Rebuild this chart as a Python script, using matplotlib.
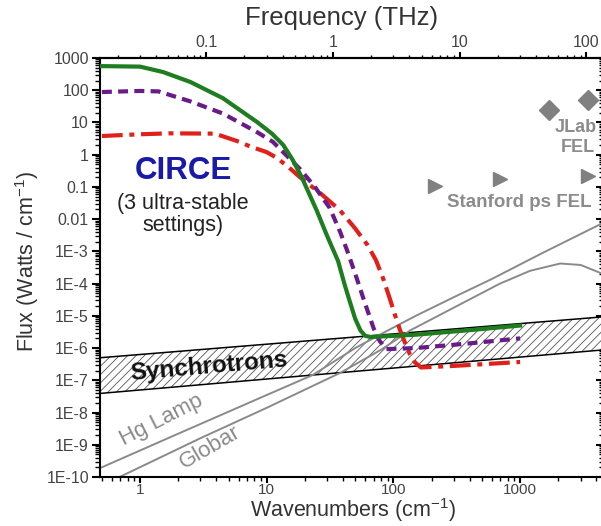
import matplotlib
matplotlib.use('Agg')
import matplotlib.pyplot as plt
from matplotlib.ticker import LogLocator, NullFormatter

plt.rcParams['font.family'] = ['Liberation Sans', 'DejaVu Sans']
plt.rcParams['mathtext.default'] = 'regular'
plt.rcParams['hatch.linewidth'] = 0.6
plt.rcParams['hatch.color'] = '#555555'

THZ = 33.356  # cm^-1 per THz

# CIRCE settings (wavenumber in cm^-1, flux in W/cm^-1)
green_wn = [0.5, 1.0, 1.52, 2.5, 4.5, 8.4, 11, 13.5, 16, 18.9, 24.9, 30, 36.6, 41, 45, 50, 55, 60, 66,
            150, 400, 1000]
green_flux = [560, 540, 367, 180, 57, 10.3, 4.5, 2.0, 0.7, 0.2, 0.018, 3e-3, 5e-4, 1e-4, 3e-5, 8e-6,
              3.5e-6, 2.4e-6, 2.2e-6, 2.6e-6, 3.6e-6, 5e-6]

purple_wn = [0.5, 1.0, 1.4, 2.5, 4.5, 8.4, 11.2, 18.3, 24, 31.5, 38, 43, 50, 59, 70, 78, 88,
             150, 400, 1000]
purple_flux = [88, 95, 92, 45, 19, 5, 2.5, 0.36, 0.1, 0.022, 4e-3, 1.1e-3, 2e-4, 2.8e-5, 4e-6,
               1.65e-6, 9.3e-7, 1e-6, 1.4e-6, 2e-6]

red_wn = [0.5, 1.0, 1.7, 3.9, 6.1, 7.4, 10, 12, 15, 18.3, 27, 37.8, 49.8, 61.9, 72.9, 82.8, 92.3,
          103, 113, 124, 135, 148, 165, 300, 1000]
red_flux = [3.8, 4.3, 4.6, 4.5, 2.5, 1.8, 1.2, 0.8, 0.4, 0.2, 0.06, 0.019, 5.2e-3, 1.66e-3, 5.3e-4,
            1.47e-4, 4.1e-5, 1.05e-5, 3.55e-6, 1.4e-6, 6.4e-7, 3.6e-7, 2.5e-7, 2.8e-7, 3.7e-7]

# synchrotron band edges
band_wn = [0.48, 10000]
band_hi = [5e-7, 1.2e-5]
band_lo = [3.9e-8, 1.15e-6]

# thermal sources
hg_wn = [0.5, 2, 10, 23, 50, 78, 150, 300, 600, 1500, 4500]
hg_flux = [2e-10, 2.2e-9, 3.5e-8, 1.45e-7, 1e-6, 2.6e-6, 1e-5, 3.8e-5, 1.4e-4, 8.9e-4, 7.6e-3]
globar_wn = [0.69, 3, 10, 38, 80, 135, 300, 693, 1200, 2070, 3000, 4500]
globar_flux = [1e-10, 1.6e-9, 1.4e-8, 1.7e-7, 8.9e-7, 3.5e-6, 1.8e-5, 1e-4, 2.5e-4, 4.2e-4, 3.8e-4, 2e-4]

# FEL sources
stanford_wn = [213, 693, 3435]
stanford_flux = [0.107, 0.177, 0.22]
jlab_wn = [1690, 3435]
jlab_flux = [24, 50]

y_ticks = [1e3, 1e2, 1e1, 1, 0.1, 0.01, 1e-3, 1e-4, 1e-5, 1e-6, 1e-7, 1e-8, 1e-9, 1e-10]
y_labels = ['1000', '100', '10', '1', '0.1', '0.01', '1E-3', '1E-4', '1E-5', '1E-6',
            '1E-7', '1E-8', '1E-9', '1E-10']
x_ticks = [1, 10, 100, 1000]
x_labels = ['1', '10', '100', '1000']
f_ticks = [0.1, 1, 10, 100]
f_labels = ['0.1', '1', '10', '100']

fig = plt.figure(figsize=(6.01, 5.26), dpi=100)
ax = fig.add_axes([100 / 601, 1 - 477 / 526, (603 - 100) / 601, (477 - 58) / 526])
ax.set_xscale('log')
ax.set_yscale('log')
ax.set_xlim(10 ** (-40 / 126.7), 10 ** (463 / 126.7))
ax.set_ylim(1e-10, 1e3)

ax.fill_between(band_wn, band_lo, band_hi, facecolor='white', hatch='////', lw=0, zorder=1)
ax.plot(band_wn, band_hi, color='black', lw=1.1, zorder=2)
ax.plot(band_wn, band_lo, color='black', lw=1.1, zorder=2)

ax.plot(hg_wn, hg_flux, color='#8a8a8a', lw=1.4, zorder=2)
ax.plot(globar_wn, globar_flux, color='#8a8a8a', lw=1.4, zorder=2)

ax.plot(red_wn, red_flux, color='#e0201a', lw=3, dashes=(5, 1.6, 1.2, 1.6), zorder=3)
ax.plot(purple_wn, purple_flux, color='#6a1b8a', lw=3, dashes=(2.4, 1.5), zorder=4)
ax.plot(green_wn, green_flux, color='#1e7d1e', lw=3, zorder=5)

ax.plot(stanford_wn, stanford_flux, '>', color='#808080', ms=10, zorder=5)
ax.plot(jlab_wn, jlab_flux, 'D', color='#808080', ms=10, zorder=5)

ax.set_yticks(y_ticks, y_labels)
ax.set_xticks(x_ticks, x_labels)
ax.yaxis.set_minor_locator(LogLocator(subs=range(2, 10), numticks=200))
ax.xaxis.set_minor_locator(LogLocator(subs=range(2, 10), numticks=200))
ax.xaxis.set_minor_formatter(NullFormatter())
ax.yaxis.set_minor_formatter(NullFormatter())
ax.tick_params(which='major', direction='out', length=6, width=1.5, pad=2,
               labelsize=11.5, labelcolor='#444444')
ax.tick_params(axis='x', which='major', length=4, pad=0.5, labelsize=11)
ax.tick_params(which='minor', direction='out', length=3.5, width=1)
ax.tick_params(axis='x', which='minor', length=3)
for s in ax.spines.values():
    s.set_linewidth(1.5)

# right-hand spine ticks point inwards
right = ax.secondary_yaxis('right')
right.set_yticks(y_ticks)
right.yaxis.set_minor_locator(LogLocator(subs=range(2, 10), numticks=200))
right.yaxis.set_major_formatter(NullFormatter())
right.yaxis.set_minor_formatter(NullFormatter())
right.tick_params(which='major', direction='in', length=5, width=1.5)
right.tick_params(which='minor', direction='in', length=3, width=1)

sec = ax.secondary_xaxis('top', functions=(lambda w: w / THZ, lambda f: f * THZ))
sec.set_xticks(f_ticks, f_labels)
sec.xaxis.set_minor_locator(LogLocator(subs=range(2, 10), numticks=200))
sec.xaxis.set_minor_formatter(NullFormatter())
sec.tick_params(which='major', direction='out', length=4, width=1.5, pad=2,
                labelsize=11.5, labelcolor='#444444')
sec.tick_params(which='minor', direction='out', length=2.5, width=1)
sec.spines['top'].set_linewidth(1.5)

# axis titles
fig.text(342 / 601, 1 - 18 / 526, 'Frequency (THz)', fontsize=18.5, color='#333333',
         ha='center', va='center')
fig.text(353 / 601, 1 - 524 / 526, 'Wavenumbers (cm$^{-1}$)', fontsize=15.5, color='#333333',
         ha='center', va='bottom')
fig.text(27 / 601, 1 - 262 / 526, 'Flux (Watts / cm$^{-1}$)', fontsize=15.5, color='#333333',
         ha='center', va='center', rotation=90)

# annotations
fig.text(183 / 601, 1 - 171 / 526, 'CIRCE', fontsize=22.5, fontweight='bold', color='#1a1aa8',
         ha='center', va='center')
fig.text(183 / 601, 1 - 203 / 526, '(3 ultra-stable', fontsize=15.5, color='#222222',
         ha='center', va='center')
fig.text(183 / 601, 1 - 226 / 526, 'settings)', fontsize=15.5, color='#222222',
         ha='center', va='center')
fig.text(209 / 601, 1 - 367 / 526, 'Synchrotrons', fontsize=17.5, fontweight='bold', color='#111111',
         ha='center', va='center', rotation=5)
fig.text(161 / 601, 1 - 420 / 526, 'Hg Lamp', fontsize=16, color='#8a8a8a',
         ha='center', va='center', rotation=27)
fig.text(210 / 601, 1 - 448 / 526, 'Globar', fontsize=16, color='#8a8a8a',
         ha='center', va='center', rotation=30)
fig.text(519 / 601, 1 - 202 / 526, 'Stanford ps FEL', fontsize=13.5, fontweight='bold', color='#8c8c8c',
         ha='center', va='center')
fig.text(597 / 601, 1 - 127 / 526, 'JLab', fontsize=13, fontweight='bold', color='#8c8c8c',
         ha='right', va='center')
fig.text(595 / 601, 1 - 148 / 526, 'FEL', fontsize=13, fontweight='bold', color='#8c8c8c',
         ha='right', va='center')

fig.savefig('out.png', dpi=100)
